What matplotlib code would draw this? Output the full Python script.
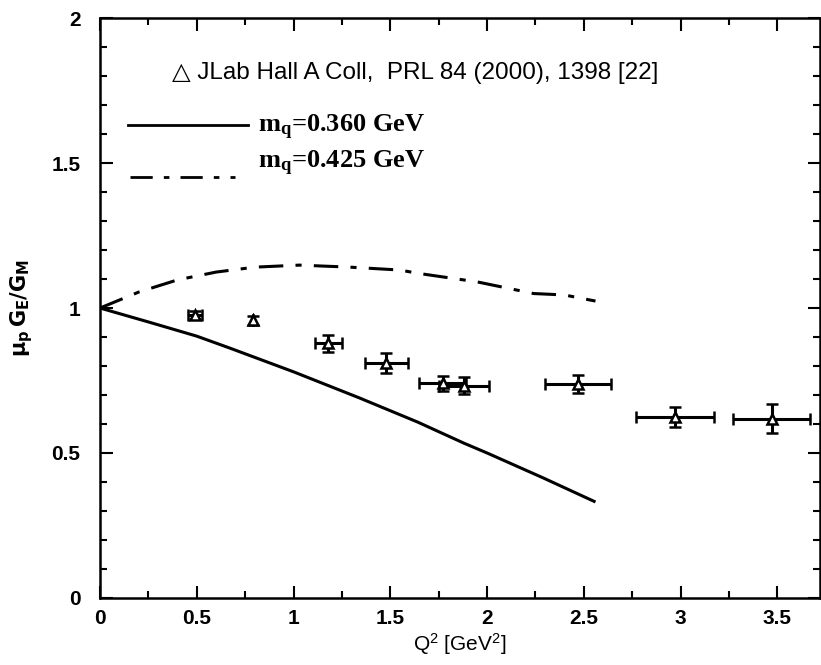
import numpy as np
import matplotlib.pyplot as plt
from matplotlib.ticker import MultipleLocator

plt.rcParams["mathtext.fontset"] = "custom"
plt.rcParams["mathtext.default"] = "regular"
plt.rcParams["mathtext.rm"] = "Liberation Serif:bold"
plt.rcParams["mathtext.bf"] = "Liberation Serif:bold"

# JLab Hall A data
q2 = [0.49, 0.79, 1.18, 1.48, 1.77, 1.88, 2.47, 2.97, 3.47]
ratio = [0.976, 0.958, 0.878, 0.810, 0.740, 0.732, 0.738, 0.623, 0.618]
q2_err = [0.035, 0.0, 0.07, 0.11, 0.12, 0.13, 0.17, 0.20, 0.20]
ratio_err = [0.015, 0.015, 0.03, 0.035, 0.025, 0.03, 0.03, 0.035, 0.05]

# model curves
q2_a = [0, 0.25, 0.5, 0.67, 1.0, 1.34, 1.64, 1.88, 2.0, 2.29, 2.56]
gm_a = [1.0, 0.952, 0.903, 0.862, 0.78, 0.69, 0.607, 0.534, 0.50, 0.414, 0.331]
q2_b = [0, 0.2, 0.4, 0.6, 0.8, 1.03, 1.29, 1.55, 1.64, 1.95, 2.24, 2.4, 2.56]
gm_b = [1.0, 1.055, 1.097, 1.124, 1.141, 1.148, 1.141, 1.131, 1.12, 1.09, 1.05, 1.045, 1.024]

fig = plt.figure(figsize=(8.21, 6.65), dpi=100)
ax = fig.add_axes([0.1218, 0.1008, 0.877, 0.872])

ax.plot(q2_a, gm_a, color="black", lw=2.2, solid_capstyle="butt")
ax.plot(q2_b, gm_b, color="black", lw=2.2, dashes=(8, 4, 2, 4))
ax.errorbar(q2, ratio, xerr=q2_err, yerr=ratio_err, fmt="^", mfc="white",
            mec="black", ms=7, mew=1.8, ecolor="black", elinewidth=2.2,
            capsize=4, capthick=2.2)

ax.set_xlim(0, 3.72)
ax.set_ylim(0, 2)
ax.xaxis.set_major_locator(MultipleLocator(0.5))
ax.xaxis.set_minor_locator(MultipleLocator(0.25))
ax.yaxis.set_major_locator(MultipleLocator(0.5))
ax.yaxis.set_minor_locator(MultipleLocator(0.1))
ax.tick_params(which="both", direction="in", top=True, right=True, width=1.5)
ax.tick_params(which="major", length=9)
ax.tick_params(which="minor", length=5)
for s in ax.spines.values():
    s.set_linewidth(1.8)

tfont = dict(family="Liberation Sans", weight="bold", size=15)
ax.set_xticks([0, 0.5, 1, 1.5, 2, 2.5, 3, 3.5])
ax.set_xticklabels(["0", "0.5", "1", "1.5", "2", "2.5", "3", "3.5"], **tfont)
ax.set_yticks([0, 0.5, 1, 1.5, 2])
ax.set_yticklabels(["0", "0.5", "1", "1.5", "2"], **tfont)
ax.tick_params(axis="x", pad=8)
ax.tick_params(axis="y", pad=14)

ax.set_xlabel(r"Q$^2$ [GeV$^2$]", family="Liberation Sans", size=15,
              labelpad=2)
ylab = ax.set_ylabel(r"$\mathbf{\mu_p\,G_E/G_M}$", size=15, labelpad=12)
ylab.set_math_fontfamily("dejavusans")

# key drawn by hand, as in the original
ax.text(0.4375, 0.905, "\u25b3 JLab Hall A Coll,  PRL 84 (2000), 1398 [22]",
        transform=ax.transAxes, ha="center", va="center",
        family=["Liberation Sans", "DejaVu Sans"], size=17.5)
ax.plot([0.039, 0.206], [0.8155, 0.8155], transform=ax.transAxes,
        color="black", lw=2)
ax.plot([0.042, 0.1875], [0.726, 0.726], transform=ax.transAxes,
        color="black", lw=2, dashes=(8, 4, 2, 4))
sfont = dict(family="Liberation Serif", weight="bold", size=19)
ax.text(0.219, 0.812, r"m$_\mathbf{q}$=0.360 GeV", transform=ax.transAxes,
        ha="left", va="center", **sfont)
ax.text(0.219, 0.75, r"m$_\mathbf{q}$=0.425 GeV", transform=ax.transAxes,
        ha="left", va="center", **sfont)

fig.savefig("out.png", dpi=100)
